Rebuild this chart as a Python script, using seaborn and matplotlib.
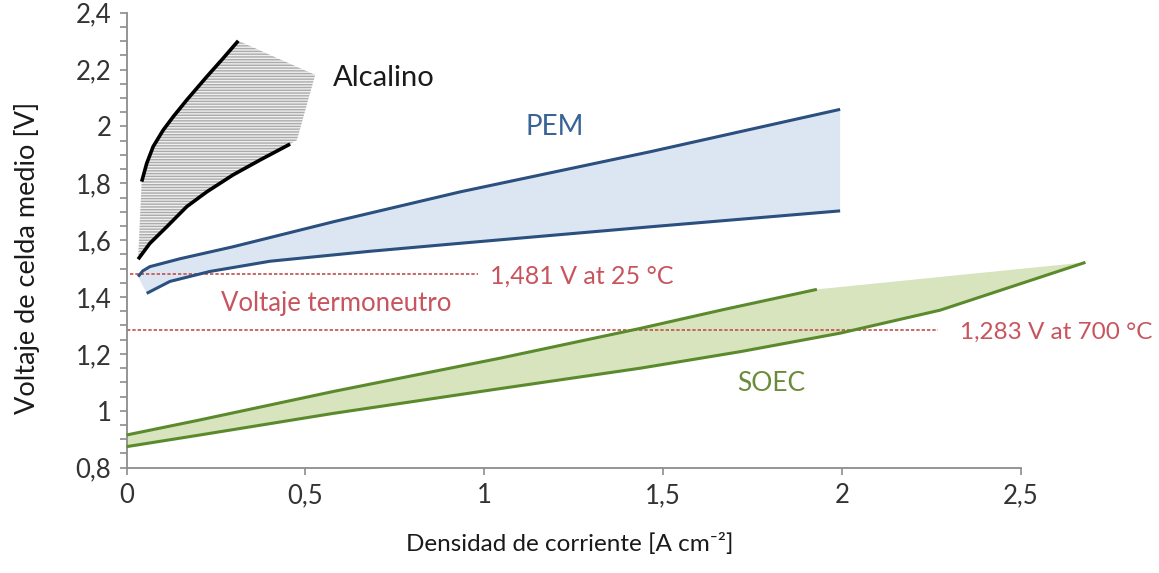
import numpy as np
import pandas as pd
import matplotlib
matplotlib.use("Agg")
import matplotlib.pyplot as plt
from matplotlib.ticker import MultipleLocator, FixedLocator, FixedFormatter
import seaborn as sns

# ---------------- data ----------------
alk_upper_x = [0.042, 0.056, 0.074, 0.102, 0.130, 0.168, 0.224, 0.270, 0.312]
alk_upper_y = [1.806, 1.870, 1.929, 1.987, 2.034, 2.093, 2.175, 2.240, 2.301]
alk_lower_x = [0.032, 0.065, 0.112, 0.168, 0.224, 0.298, 0.373, 0.457]
alk_lower_y = [1.533, 1.589, 1.647, 1.718, 1.770, 1.830, 1.882, 1.938]
alk_edge_x = [0.527, 0.476]          # outer corners of the shaded band
alk_edge_y = [2.181, 1.952]

pem_upper_x = [0.032, 0.045, 0.065, 0.150, 0.298, 0.579, 0.933, 1.464, 1.995]
pem_upper_y = [1.472, 1.492, 1.507, 1.535, 1.577, 1.665, 1.770, 1.911, 2.060]
pem_lower_x = [0.056, 0.121, 0.233, 0.401, 0.681, 0.932, 1.464, 1.995]
pem_lower_y = [1.413, 1.455, 1.490, 1.526, 1.561, 1.589, 1.647, 1.703]

soec_upper_x = [0.0, 0.205, 0.578, 1.044, 1.437, 1.669, 1.930]
soec_upper_y = [0.915, 0.968, 1.068, 1.185, 1.290, 1.356, 1.427]
soec_lower_x = [0.0, 0.205, 0.578, 1.044, 1.437, 1.716, 1.995, 2.275, 2.681]
soec_lower_y = [0.874, 0.915, 0.991, 1.078, 1.150, 1.208, 1.273, 1.354, 1.522]

v_tn_25 = 1.481
v_tn_700 = 1.283
tn25_span = [0.01, 0.983]
tn700_span = [0.0, 2.27]

x_ticks = [0, 0.5, 1, 1.5, 2, 2.5]
x_tick_labels = ["0", "0,5", "1", "1,5", "2", "2,5"]
y_ticks = [0.8, 1.0, 1.2, 1.4, 1.6, 1.8, 2.0, 2.2, 2.4]
y_tick_labels = ["0,8", "1", "1,2", "1,4", "1,6", "1,8", "2", "2,2", "2,4"]

# ---------------- style ----------------
sns.set_theme(style="white")
plt.rcParams["font.family"] = ["Lato", "DejaVu Sans"]
plt.rcParams["hatch.linewidth"] = 1.0

fig = plt.figure(figsize=(11.59, 5.73), dpi=100)
ax = fig.add_axes([0.1093, 0.1838, 0.7714, 0.7941])

axis_grey = "#8c8c8c"
red_txt = "#c8545e"
red_line = "#c0504d"
pem_col = "#2b4f7e"
pem_fill = "#dce6f2"
soec_col = "#5b8a2c"
soec_fill = "#d7e4bd"

# ---------------- fills ----------------
alk_poly_x = alk_upper_x + alk_edge_x + alk_lower_x[::-1]
alk_poly_y = alk_upper_y + alk_edge_y + alk_lower_y[::-1]
ax.fill(alk_poly_x, alk_poly_y, facecolor="#efefef", edgecolor="#ababab",
        hatch="------", linewidth=0, zorder=1)

pem_poly_x = pem_upper_x + pem_lower_x[::-1]
pem_poly_y = pem_upper_y + pem_lower_y[::-1]
ax.fill(pem_poly_x, pem_poly_y, facecolor=pem_fill, linewidth=0, zorder=1)

soec_poly_x = soec_upper_x + soec_lower_x[::-1]
soec_poly_y = soec_upper_y + soec_lower_y[::-1]
p = ax.fill(soec_poly_x, soec_poly_y, facecolor=soec_fill, linewidth=0, zorder=1)
for patch in p:
    patch.set_clip_on(False)

# ---------------- thermoneutral lines ----------------
ax.plot(tn25_span, [v_tn_25, v_tn_25], color=red_line, lw=1.2,
        linestyle=(0, (2, 1.2)), zorder=2, clip_on=False)
ax.plot(tn700_span, [v_tn_700, v_tn_700], color=red_line, lw=1.2,
        linestyle=(0, (2, 1.2)), zorder=2, clip_on=False)

# ---------------- curves (seaborn) ----------------
def curve(xs, ys, color, lw):
    df = pd.DataFrame({"x": xs, "y": ys})
    sns.lineplot(data=df, x="x", y="y", ax=ax, color=color, linewidth=lw,
                 sort=False, estimator=None, zorder=3)
    ax.lines[-1].set_clip_on(False)
    ax.lines[-1].set_solid_capstyle("butt")
    ax.lines[-1].set_solid_joinstyle("round")

curve(alk_upper_x, alk_upper_y, "black", 2.6)
curve(alk_lower_x, alk_lower_y, "black", 2.6)
curve(pem_upper_x, pem_upper_y, pem_col, 2.2)
curve(pem_lower_x, pem_lower_y, pem_col, 2.2)
curve(soec_upper_x, soec_upper_y, soec_col, 2.2)
curve(soec_lower_x, soec_lower_y, soec_col, 2.2)

# ---------------- annotations ----------------
ax.text(0.577, 2.170, "Alcalino", color="#1a1a1a", fontsize=21, va="center", ha="left")
ax.text(1.114, 1.999, "PEM", color="#3a6396", fontsize=20, va="center", ha="left")
ax.text(1.706, 1.097, "SOEC", color="#6a8c3a", fontsize=19, va="center", ha="left")
ax.text(0.585, 1.379, "Voltaje termoneutro", color=red_txt, fontsize=18.5, va="center", ha="center")
ax.text(1.016, 1.475, "1,481 V at 25 °C", color=red_txt, fontsize=18, va="center", ha="left")
ax.text(2.331, 1.277, "1,283 V at 700 °C", color=red_txt, fontsize=17.5, va="center", ha="left")

# ---------------- axes ----------------
ax.set_xlim(0, 2.5)
ax.set_ylim(0.8, 2.4)
ax.xaxis.set_major_locator(FixedLocator(x_ticks))
ax.xaxis.set_major_formatter(FixedFormatter(x_tick_labels))
ax.yaxis.set_major_locator(FixedLocator(y_ticks))
ax.yaxis.set_major_formatter(FixedFormatter(y_tick_labels))
ax.yaxis.set_minor_locator(MultipleLocator(0.05))

for s in ["top", "right"]:
    ax.spines[s].set_visible(False)
for s in ["left", "bottom"]:
    ax.spines[s].set_color(axis_grey)
    ax.spines[s].set_linewidth(1.3)

ax.tick_params(axis="both", which="both", direction="out", length=5,
               width=1.2, color=axis_grey, labelcolor="#333333", labelsize=18.5)
ax.tick_params(axis="y", which="both", left=True, pad=6)
ax.tick_params(axis="x", which="major", bottom=True, pad=6)

ax.set_xlabel("Densidad de corriente [A cm⁻²]", fontsize=17.5, color="#1a1a1a")
ax.set_ylabel("Voltaje de celda medio [V]", fontsize=19.5, color="#1a1a1a")
ax.xaxis.set_label_coords(0.496, -0.1435)
ax.yaxis.set_label_coords(-0.097, 0.461)
ax.grid(False)

fig.savefig("out.png", dpi=100)
